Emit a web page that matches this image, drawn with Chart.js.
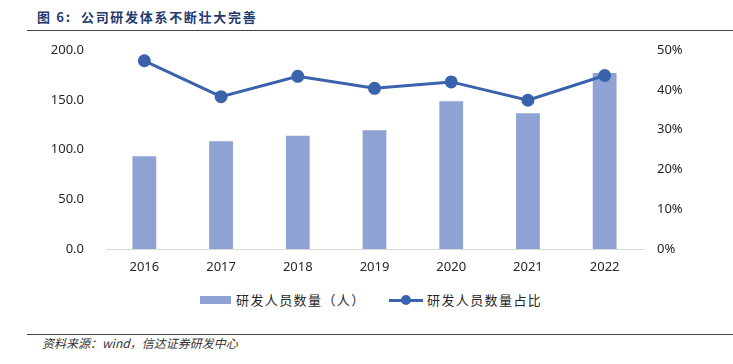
<!DOCTYPE html>
<html>
<head>
<meta charset="utf-8">
<script src="https://cdn.jsdelivr.net/npm/chart.js@4/dist/chart.umd.min.js"></script>
<style>
  body { margin: 0; width: 733px; height: 364px; background: #fff; position: relative; overflow: hidden; font-family: "Noto Sans", "Noto Sans CJK SC", sans-serif; }
  #title { position: absolute; left: 37px; top: 7px; font-family: "Noto Sans CJK SC", sans-serif; font-weight: bold; font-size: 13px; letter-spacing: 1.7px; color: #1F3A6E; white-space: nowrap; }
  .rule { position: absolute; left: 27px; right: 0; height: 0; border-top: 1.5px solid #444; }
  #wrap { position: absolute; left: 0; top: 42px; width: 733px; height: 243px; }
  #legend { position: absolute; top: 291px; left: 0; width: 733px; height: 18px; font-family: "Noto Sans CJK SC", sans-serif; font-size: 13px; letter-spacing: 1.4px; color: #262626; }
  .lg { position: absolute; top: 0; white-space: nowrap; line-height: 18px; }
  #source { position: absolute; left: 42px; top: 334px; font-family: "Noto Sans CJK SC", sans-serif; font-style: italic; font-size: 12px; color: #333; white-space: nowrap; }
</style>
</head>
<body>
<div id="title">图 6:&nbsp; 公司研发体系不断壮大完善</div>
<div class="rule" style="top:30px"></div>
<div id="wrap"><canvas id="chart"></canvas></div>
<div id="legend">
  <div class="lg" style="left:200px"><span style="display:inline-block;width:31px;height:8px;background:#8EA3D3;vertical-align:middle;margin-right:5px;position:relative;top:-1px"></span>研发人员数量（人）</div>
  <div class="lg" style="left:389px"><span style="display:inline-block;width:34px;height:10px;vertical-align:middle;margin-right:4px;position:relative;top:-1px"><span style="position:absolute;left:0;top:3.5px;width:34px;height:3px;background:#3B62AC"></span><span style="position:absolute;left:12px;top:0;width:10px;height:10px;border-radius:50%;background:#3B62AC"></span></span>研发人员数量占比</div>
</div>
<div class="rule" style="top:334px"></div>
<div id="source">资料来源：wind，信达证券研发中心</div>
<script>
// 年份
var years = ["2016", "2017", "2018", "2019", "2020", "2021", "2022"];
// 研发人员数量（人）
var staff = [93.5, 108.5, 114, 119.5, 148.5, 136.5, 177];
// 研发人员数量占比
var ratio = [0.473, 0.383, 0.434, 0.404, 0.420, 0.374, 0.436];

var ctx = document.getElementById("chart").getContext("2d");
var tickFont = { family: "Noto Sans", size: 13 };
var hidden = "rgba(0,0,0,0)";

var chart = new Chart(ctx, {
  data: {
    labels: years,
    datasets: [
      {
        type: "line",
        label: "研发人员数量占比",
        data: ratio,
        yAxisID: "y1",
        borderColor: "#3B62AC",
        backgroundColor: "#3B62AC",
        borderWidth: 3,
        pointRadius: 5,
        pointHoverRadius: 5,
        tension: 0
      },
      {
        type: "bar",
        label: "研发人员数量（人）",
        data: staff,
        yAxisID: "y",
        backgroundColor: "#8EA3D3",
        barPercentage: 0.31,
        categoryPercentage: 1
      }
    ]
  },
  options: {
    responsive: true,
    maintainAspectRatio: false,
    animation: false,
    layout: { padding: 0 },
    plugins: { legend: { display: false }, tooltip: { enabled: false } },
    scales: {
      x: {
        grid: { display: false, drawTicks: false },
        border: { color: "#D9D9D9", width: 1 },
        ticks: { font: tickFont, color: "#262626", padding: 10 }
      },
      y: {
        position: "left",
        min: 0, max: 200,
        // 透明刻度线用来留出标签与绘图区之间的空隙
        grid: { color: hidden, tickColor: hidden, drawTicks: true, tickLength: 22 },
        border: { display: false },
        ticks: {
          stepSize: 50, font: tickFont, color: "#262626", padding: 0,
          callback: function (v) { return v.toFixed(1); }
        },
        afterFit: function (s) { s.width = 106; }
      },
      y1: {
        position: "right",
        min: 0, max: 0.5,
        grid: { color: hidden, tickColor: hidden, drawTicks: true, tickLength: 14, drawOnChartArea: false },
        border: { display: false },
        ticks: {
          stepSize: 0.1, font: tickFont, color: "#262626", padding: 0,
          callback: function (v) { return Math.round(v * 100) + "%"; }
        },
        afterFit: function (s) { s.width = 90; }
      }
    }
  }
});
</script>
</body>
</html>
